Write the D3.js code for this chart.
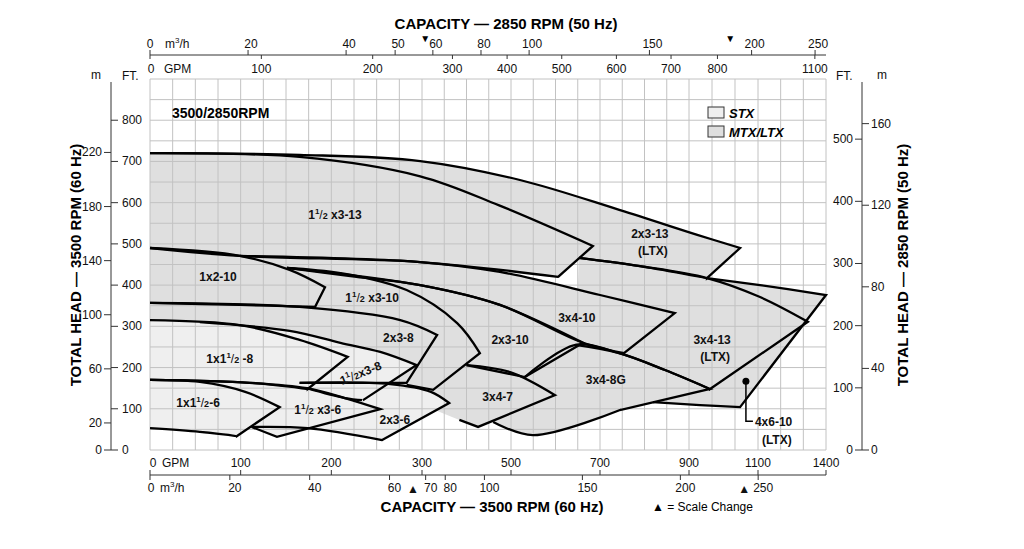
<!DOCTYPE html>
<html>
<head>
<meta charset="utf-8">
<script src="https://cdn.jsdelivr.net/npm/d3@7"></script>
<style>
  body { margin: 0; background: #fff; }
  svg { font-family: "Liberation Sans", Arial, sans-serif; }
  .num { font-size: 12px; fill: #111; }
  .lbl { font-size: 12px; font-weight: bold; fill: #111; }
  .title { font-size: 15px; font-weight: bold; fill: #000; }
</style>
</head>
<body>
<div id="chart"></div>
<script>
// ---- data (GPM at 3500 RPM, head in FT at 3500 RPM) ----
// each pump: top curve (ends at tip), lower tip point, bottom curve, hidden fill-only edge
const pump2x3_13   = { top: [[0,720],[165,716],[298,701],[520,655],[745,582],[924,522],[1048,490]], tip: [952,417], bottom: [[790,446],[653,466]], under: [[420,478],[0,490]] };
const pump15x3_13  = { top: [[0,720],[165,711],[298,664],[472,594],[684,495]], tip: [606,420], bottom: [[298,456],[99,471],[0,490]], under: [] };
const pump4x6_10   = { top: [[952,417],[1109,400],[1400,376]], tip: [1048,104], bottom: [[932,109],[819,116]], under: [] };
const pump3x4_13   = { top: [[653,466],[790,446],[952,417],[1109,371],[1320,311]], tip: [961,148], bottom: [[846,194],[743,235],[645,255]], under: [] };
const pump3x4_10   = { top: [[99,471],[298,456],[475,432],[700,376],[868,332]], tip: [754,235], bottom: [[662,260],[475,352],[298,400],[151,442]], under: [] };
const pump1x2_10   = { top: [[0,490],[99,471],[154,437],[193,395]], tip: [182,347], bottom: [[99,352],[0,357]], under: [] };
const pump15x3_10  = { top: [[151,442],[210,429],[283,388],[379,308],[430,235]], tip: [325,146], bottom: [[283,158]], under: [[265,160],[165,163]] };
const pump2x3_10   = { top: [[151,442],[221,422],[298,400],[475,352],[662,260]], tip: [531,177], bottom: [[400,206]], under: [[330,200],[200,300]] };
const pump3x4_8G   = { top: [[531,177],[645,255],[743,235],[846,194],[961,148]], tip: [745,97], bottom: [[549,36],[460,68]], under: [[420,110],[420,190]] };
const pump3x4_7    = { top: [[400,206],[498,189],[599,133]], tip: [426,56], bottom: [[384,73]], under: [[300,110],[300,200]] };
const pump2x3_8    = { top: [[0,357],[165,347],[276,315],[334,279]], tip: [283,163], bottom: [[265,163],[165,163]], under: [[0,170]] };
const pump1x15_8   = { top: [[0,315],[99,303],[165,267],[218,226]], tip: [174,148], bottom: [[110,163],[0,170]], under: [] };
const pump15x3_8   = { top: [[55,310],[154,289],[210,260],[254,238],[294,206]], tip: [235,121], bottom: [[215,126],[173,150]], under: [] };
const pump2x3_6    = { top: [[165,163],[265,160],[320,141],[361,114]], tip: [256,24], bottom: [[174,53],[112,56]], under: [] };
const pump15x3_6   = { top: [[0,170],[110,163],[173,150],[215,126],[254,99]], tip: [140,32], bottom: [[112,56]], under: [] };
const pump1x15_6   = { top: [[0,170],[55,165],[105,141],[143,104]], tip: [96,34], bottom: [[55,44],[0,53]], under: [] };

const mtxPumps = [pump2x3_13, pump15x3_13, pump4x6_10, pump3x4_13, pump3x4_10, pump1x2_10, pump15x3_10,
                  pump2x3_10, pump3x4_8G, pump3x4_7, pump2x3_8];
const stxPumps = [pump1x15_8, pump15x3_8, pump2x3_6, pump15x3_6, pump1x15_6];

// labels: [pre, hasFraction, post, gpm, ft, second line, rotation]
const pumpLabels = [
  ["1", true, " x3-13", 204, 570, "", 0],
  ["2x3-13", false, "", 812, 524, "(LTX)", 0],
  ["1x2-10", false, "", 75, 420, "", 0],
  ["1", true, " x3-10", 245, 369, "", 0],
  ["3x4-10", false, "", 648, 320, "", 0],
  ["2x3-8", false, "", 274, 272, "", 0],
  ["2x3-10", false, "", 498, 267, "", 0],
  ["3x4-13", false, "", 967, 267, "(LTX)", 0],
  ["1x1", true, "  -8", 88, 221, "", 0],
  ["1", true, "x3-8", 234, 187, "", -22],
  ["3x4-8G", false, "", 713, 170, "", 0],
  ["3x4-7", false, "", 470, 129, "", 0],
  ["1x1", true, "-6", 53, 114, "", 0],
  ["1", true, " x3-6", 185, 97, "", 0],
  ["2x3-6", false, "", 270, 73, "", 0]
];

const gpmTicks60 = [0, 100, 200, 300, 500, 700, 900, 1100, 1400];
const m3Ticks60 = [0, 20, 40, 60, 70, 80, 100, 150, 200, 250];
const gpmTicks50 = [0, 100, 200, 300, 400, 500, 600, 700, 800, 1100];
const m3Ticks50 = [0, 20, 40, 50, 60, 80, 100, 150, 200, 250];
const ftTicks60 = [0, 100, 200, 300, 400, 500, 600, 700, 800];
const mTicks60 = [0, 20, 60, 100, 140, 180, 220];
const ftTicks50 = [0, 100, 200, 300, 400, 500];
const mTicks50 = [0, 40, 80, 120, 160];
const gridFt = d3.range(0, 901, 50);
const gridGpm = d3.range(0, 300, 25).concat(d3.range(300, 900, 50), [900, 966.7, 1033.3, 1100, 1200, 1300, 1400]);

const GPM_PER_M3 = 4.403, FT_PER_M = 3.281, SPEED = 2850 / 3500;

// ---- layout ----
const W = 1024, H = 549;
const svg = d3.select("#chart").append("svg").attr("width", W).attr("height", H);

// piecewise capacity scale (scale change at 300, 900, 1100 GPM)
const x = d3.scaleLinear().domain([0, 300, 900, 1100, 1400]).range([150, 422, 689, 758, 826]);
const y = d3.scaleLinear().domain([0, 900]).range([450, 79]);
const x50 = g => x(g / SPEED);
const y50 = f => y(f / (SPEED * SPEED));

const plotL = x(0), plotR = x(1400), plotT = y(900), plotB = y(0);

const line = d3.line().x(d => x(d[0])).y(d => y(d[1])).curve(d3.curveCatmullRom.alpha(0.5));
function outline(p) {
  let s = line(p.top);
  s += "L" + x(p.tip[0]) + "," + y(p.tip[1]);
  if (p.bottom.length) s += line([p.tip].concat(p.bottom)).replace(/^M[^LC]*/, "");
  return s;
}
function area(p) {
  return outline(p) + p.under.map(d => "L" + x(d[0]) + "," + y(d[1])).join("") + "Z";
}

// fills
const fills = svg.append("g");
mtxPumps.forEach(p => fills.append("path").attr("d", area(p)).attr("fill", "#dfdfdf"));
stxPumps.forEach(p => fills.append("path").attr("d", area(p)).attr("fill", "#efefef"));

// grid
const grid = svg.append("g").attr("stroke", "#c2c2c2").attr("stroke-width", 1);
grid.selectAll(".v").data(gridGpm).enter().append("line")
  .attr("x1", d => x(d)).attr("x2", d => x(d)).attr("y1", plotT).attr("y2", plotB);
grid.selectAll(".h").data(gridFt).enter().append("line")
  .attr("x1", plotL).attr("x2", plotR).attr("y1", d => y(d)).attr("y2", d => y(d));

// outlines
const strokes = svg.append("g").attr("fill", "none").attr("stroke", "#000").attr("stroke-width", 2.3).attr("stroke-linejoin", "miter");
mtxPumps.concat(stxPumps).forEach(p => strokes.append("path").attr("d", outline(p)));

// labels
pumpLabels.forEach(l => {
  const t = svg.append("text").attr("class", "lbl").attr("text-anchor", "middle")
    .attr("transform", "translate(" + x(l[3]) + "," + (y(l[4]) + 4) + ") rotate(" + l[6] + ")");
  t.append("tspan").text(l[0]);
  if (l[1]) {
    t.append("tspan").attr("font-size", 8).attr("dy", -5).text("1");
    t.append("tspan").attr("font-size", 12).attr("dy", 5).attr("font-weight", "normal").text("/");
    t.append("tspan").attr("font-size", 9).text("2");
  }
  t.append("tspan").text(l[2]);
  if (l[5]) svg.append("text").attr("class", "lbl").attr("text-anchor", "middle")
    .attr("x", x(l[3]) + 3).attr("y", y(l[4]) + 21).text(l[5]);
});

// 4x6-10 callout
const dotG = 1065, dotH = 167, leaderH = 70;
svg.append("circle").attr("cx", x(dotG)).attr("cy", y(dotH)).attr("r", 3.5).attr("fill", "#000");
svg.append("path").attr("fill", "none").attr("stroke", "#000").attr("stroke-width", 1.5)
  .attr("d", "M" + x(dotG) + "," + y(dotH) + "V" + y(leaderH) + "h7");
svg.append("text").attr("class", "lbl").attr("x", x(dotG) + 9).attr("y", y(leaderH) + 5).text("4x6-10");
svg.append("text").attr("class", "lbl").attr("x", x(dotG) + 16).attr("y", y(leaderH) + 23).text("(LTX)");

// plot heading + legend
svg.append("text").attr("x", 172).attr("y", 118).attr("font-size", 14).attr("font-weight", "bold").text("3500/2850RPM");
[["STX", "#efefef", 107], ["MTX/LTX", "#dfdfdf", 126]].forEach(d => {
  svg.append("rect").attr("x", 708).attr("y", d[2]).attr("width", 16).attr("height", 11)
    .attr("fill", d[1]).attr("stroke", "#333").attr("stroke-width", 1);
  svg.append("text").attr("x", 729).attr("y", d[2] + 11).attr("font-size", 13)
    .attr("font-weight", "bold").attr("font-style", "italic").text(d[0]);
});

// ---- bottom capacity axis (60 Hz) ----
const axB = 475;
svg.append("line").attr("x1", plotL).attr("x2", plotR).attr("y1", axB).attr("y2", axB).attr("stroke", "#333");
gpmTicks60.forEach(g => {
  svg.append("line").attr("x1", x(g)).attr("x2", x(g)).attr("y1", axB - 5).attr("y2", axB).attr("stroke", "#333");
  svg.append("text").attr("class", "num").attr("text-anchor", "middle")
    .attr("x", x(g) + (g === 0 ? 3 : 0)).attr("y", axB - 8).text(g);
});
m3Ticks60.forEach(m => {
  const px = x(m * GPM_PER_M3);
  svg.append("line").attr("x1", px).attr("x2", px).attr("y1", axB).attr("y2", axB + 5).attr("stroke", "#333");
  svg.append("text").attr("class", "num").attr("text-anchor", "middle").attr("x", px + (m === 0 ? 1 : 5)).attr("y", axB + 17).text(m);
});
svg.append("text").attr("class", "num").attr("x", 162).attr("y", axB - 8).text("GPM");
svg.append("text").attr("class", "num").attr("x", 160).attr("y", axB + 17).html("m<tspan font-size='8' dy='-5'>3</tspan><tspan dy='5'>/h</tspan>");
svg.append("text").attr("class", "num").attr("text-anchor", "middle").attr("x", x(290)).attr("y", axB + 18).text("▲");
svg.append("text").attr("class", "num").attr("text-anchor", "middle").attr("x", x(1060)).attr("y", axB + 18).text("▲");
svg.append("text").attr("class", "title").attr("text-anchor", "middle").attr("x", 492).attr("y", 512).text("CAPACITY — 3500 RPM (60 Hz)");
svg.append("text").attr("x", 652).attr("y", 511).attr("font-size", 12).text("▲ = Scale Change");

// ---- top capacity axis (50 Hz) ----
const axT = 55;
svg.append("line").attr("x1", plotL).attr("x2", plotR).attr("y1", axT).attr("y2", axT).attr("stroke", "#333");
gpmTicks50.forEach(g => {
  svg.append("line").attr("x1", x50(g)).attr("x2", x50(g)).attr("y1", axT).attr("y2", axT + 4).attr("stroke", "#333");
  svg.append("text").attr("class", "num").attr("text-anchor", "middle").attr("x", x50(g) + (g === 0 ? 1 : 0)).attr("y", axT + 18).text(g);
});
m3Ticks50.forEach(m => {
  const px = x50(m * GPM_PER_M3);
  svg.append("line").attr("x1", px).attr("x2", px).attr("y1", axT - 5).attr("y2", axT).attr("stroke", "#333");
  svg.append("text").attr("class", "num").attr("text-anchor", "middle").attr("x", px + (m === 0 ? 0 : 3)).attr("y", axT - 7).text(m);
});
svg.append("text").attr("class", "num").attr("x", 164).attr("y", axT + 18).text("GPM");
svg.append("text").attr("class", "num").attr("x", 165).attr("y", axT - 7).html("m<tspan font-size='8' dy='-5'>3</tspan><tspan dy='5'>/h</tspan>");
svg.append("text").attr("font-size", 10).attr("text-anchor", "middle").attr("x", x50(250)).attr("y", 42).text("▼");
svg.append("text").attr("font-size", 10).attr("text-anchor", "middle").attr("x", x50(830)).attr("y", 42).text("▼");
svg.append("text").attr("class", "title").attr("text-anchor", "middle").attr("x", 506).attr("y", 29).text("CAPACITY — 2850 RPM (50 Hz)");

// ---- left head axes (60 Hz) ----
const axL = 111;
svg.append("line").attr("x1", axL).attr("x2", axL).attr("y1", 82).attr("y2", plotB).attr("stroke", "#333");
ftTicks60.forEach(f => {
  svg.append("line").attr("x1", axL).attr("x2", axL + 7).attr("y1", y(f)).attr("y2", y(f)).attr("stroke", "#333");
  svg.append("text").attr("class", "num").attr("x", axL + 11).attr("y", y(f) + 4).text(f);
});
mTicks60.forEach(m => {
  svg.append("line").attr("x1", axL - 7).attr("x2", axL).attr("y1", y(m * FT_PER_M)).attr("y2", y(m * FT_PER_M)).attr("stroke", "#333");
  svg.append("text").attr("class", "num").attr("text-anchor", "end").attr("x", axL - 9).attr("y", y(m * FT_PER_M) + 4).text(m);
});
svg.append("text").attr("class", "num").attr("text-anchor", "middle").attr("x", 96).attr("y", 79).text("m");
svg.append("text").attr("class", "num").attr("x", 122).attr("y", 80).text("FT.");
svg.append("text").attr("class", "title").attr("text-anchor", "middle")
  .attr("transform", "translate(81,265) rotate(-90)").text("TOTAL HEAD — 3500 RPM (60 Hz)");

// ---- right head axes (50 Hz) ----
const axR = 862;
svg.append("line").attr("x1", axR).attr("x2", axR).attr("y1", 82).attr("y2", plotB).attr("stroke", "#333");
ftTicks50.forEach(f => {
  svg.append("line").attr("x1", axR - 7).attr("x2", axR).attr("y1", y50(f)).attr("y2", y50(f)).attr("stroke", "#333");
  svg.append("text").attr("class", "num").attr("text-anchor", "end").attr("x", axR - 9).attr("y", y50(f) + 4).text(f);
});
mTicks50.forEach(m => {
  svg.append("line").attr("x1", axR).attr("x2", axR + 7).attr("y1", y50(m * FT_PER_M)).attr("y2", y50(m * FT_PER_M)).attr("stroke", "#333");
  svg.append("text").attr("class", "num").attr("x", axR + 9).attr("y", y50(m * FT_PER_M) + 4).text(m);
});
svg.append("text").attr("class", "num").attr("x", 836).attr("y", 80).text("FT.");
svg.append("text").attr("class", "num").attr("text-anchor", "middle").attr("x", 882).attr("y", 79).text("m");
svg.append("text").attr("class", "title").attr("text-anchor", "middle")
  .attr("transform", "translate(908,265) rotate(-90)").text("TOTAL HEAD — 2850 RPM (50 Hz)");
</script>
</body>
</html>
